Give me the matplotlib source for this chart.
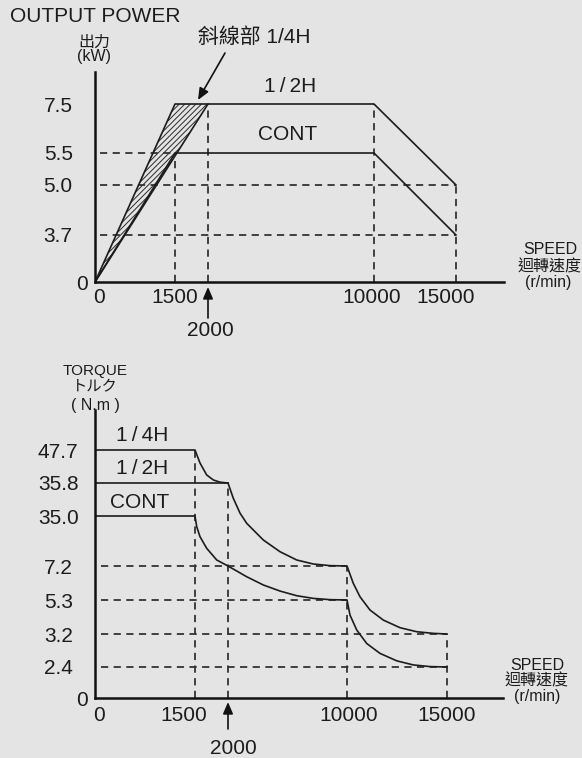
import numpy as np
import matplotlib
matplotlib.use('Agg')
import matplotlib.pyplot as plt
from matplotlib.transforms import ScaledTranslation

plt.rcParams['font.family'] = ['Liberation Sans', 'Noto Sans CJK TC', 'DejaVu Sans']
plt.rcParams['hatch.linewidth'] = 0.7

# ---- output power chart (kW vs r/min) ----
pw_xticks = [0, 1500, 10000, 15000]
pw_yticks = [0, 3.7, 5.0, 5.5, 7.5]
pw_ylabels = ['0', '3.7', '5.0', '5.5', '7.5']

pw_quarter_x = [0, 1500, 2000]
pw_quarter_y = [0, 7.5, 7.5]
pw_half_x = [0, 2000, 10000, 15000]
pw_half_y = [0, 7.5, 7.5, 5.0]
pw_cont_x = [0, 1500, 10000, 15000]
pw_cont_y = [0, 5.5, 5.5, 3.7]

# ---- torque chart (N.m vs r/min), curve points ----
tq_xticks = [0, 1500, 10000, 15000]
tq_yticks = [0, 2.4, 3.2, 5.3, 7.2, 35.0, 35.8, 47.7]
tq_ylabels = ['0', '2.4', '3.2', '5.3', '7.2', '35.0', '35.8', '47.7']

tq_quarter_x = [0, 1500, 1576, 1677, 1777, 1879, 2000]
tq_quarter_y = [47.7, 47.7, 43.0, 38.7, 36.9, 36.1, 35.8]
tq_half_x = [0, 2000, 2356, 2807, 3257, 4373, 5496, 6618, 7734, 8857, 10000,
             10315, 10650, 11150, 11815, 12650, 13485, 14315, 15000]
tq_half_y = [35.8, 35.8, 35.43, 35.07, 30.94, 21.66, 15.15, 10.54, 8.31, 7.4, 7.2,
             6.23, 5.48, 4.68, 4.06, 3.59, 3.34, 3.24, 3.2]
tq_cont_x = [0, 1500, 1526, 1576, 1677, 1829, 2000, 3257, 4373, 5496, 6618, 7734, 8857, 10000,
             10150, 10485, 10985, 11650, 12485, 13315, 14150, 15000]
tq_cont_y = [35.0, 35.0, 29.05, 23.49, 17.04, 10.54, 7.2, 6.60, 6.14, 5.80, 5.54, 5.39, 5.32, 5.3,
             4.37, 3.45, 2.97, 2.73, 2.55, 2.45, 2.41, 2.4]

BG = '#e4e4e4'
INK = '#1c1c1c'
W, H = 582, 758


def piecewise(vals, pos):
    # axis is not proportional: tick values sit at fixed spots
    return (lambda v: np.interp(v, vals, pos), lambda p: np.interp(p, pos, vals))


def px(x, y):
    return x / W, 1 - y / H


def shift(labels, offsets):
    for lab, dx in zip(labels, offsets):
        lab.set_transform(lab.get_transform() + ScaledTranslation(dx / 100, 0, fig.dpi_scale_trans))


def setup(ax, xv, xp, yv, yp, xticks, yticks, ylabels, xpad):
    ax.set_facecolor('none')
    ax.set_xscale('function', functions=piecewise(xv, xp))
    ax.set_yscale('function', functions=piecewise(yv, yp))
    ax.set_xlim(xv[0], xv[-1])
    ax.set_ylim(yv[0], yv[-1])
    for s in ['top', 'right']:
        ax.spines[s].set_visible(False)
    for s in ['left', 'bottom']:
        ax.spines[s].set_linewidth(1.8)
        ax.spines[s].set_color('#111111')
    ax.set_xticks(xticks, [str(t) for t in xticks])
    ax.set_yticks(yticks, ylabels, ha='center')
    ax.tick_params(length=0, labelsize=15, colors=INK)
    ax.tick_params(axis='y', pad=26.5)
    ax.tick_params(axis='x', pad=xpad)
    ax.minorticks_off()


fig = plt.figure(figsize=(W / 100, H / 100), dpi=100, facecolor=BG)

dash = dict(color='#333333', lw=1.3, linestyle=(0, (4, 3)))
solid = dict(color=INK, lw=1.2)

# top chart
ax1 = fig.add_axes([95 / W, 1 - 282 / H, 409 / W, 210 / H])
setup(ax1, [0, 1500, 2000, 10000, 15000, 18000], [0, 80, 113, 279, 361, 409],
      [0, 3.7, 5.0, 5.5, 7.5, 9.0], [0, 47, 97, 129, 178, 210],
      pw_xticks, pw_yticks, pw_ylabels, 4)
shift(ax1.get_xticklabels(), [4, 0, -2, -10])
shift(ax1.get_yticklabels(), [24, 0, 0, 0, 0])

ax1.hlines([5.5, 5.0, 3.7], 100, [1500, 15000, 15000], **dash)
ax1.vlines([1500, 2000, 10000, 15000], 0, [5.5, 7.5, 7.5, 5.0], **dash)
ax1.fill(pw_quarter_x, pw_quarter_y, facecolor='none', edgecolor='#2a2a2a', hatch='//////', lw=0)
ax1.plot(pw_quarter_x, pw_quarter_y, **solid)
ax1.plot(pw_half_x, pw_half_y, **solid)
ax1.plot(pw_cont_x, pw_cont_y, **solid)

arrow = dict(arrowstyle='-|>,head_length=0.7,head_width=0.3', color='#111111', lw=1.2,
             shrinkA=0, shrinkB=0)
ax1.annotate('', xy=(2000, 0), xycoords='data', xytext=(0, -36), textcoords='offset pixels',
             arrowprops=dict(arrow, shrinkB=3.6))
ax1.annotate('', xy=px(198, 100), xycoords='figure fraction', xytext=px(225, 53),
             textcoords='figure fraction', arrowprops=arrow)

# bottom chart
ax2 = fig.add_axes([95 / W, 1 - 698 / H, 408 / W, 288 / H])
setup(ax2, [0, 1500, 2000, 10000, 15000, 18000], [0, 100, 133, 252, 352, 408],
      [0, 2.4, 3.2, 5.3, 7.2, 35.0, 35.8, 47.7, 60], [0, 31, 64, 98, 132, 182, 215, 248, 288],
      tq_xticks, tq_yticks, tq_ylabels, 6)
shift(ax2.get_xticklabels(), [4, -11, 2, 0])
shift(ax2.get_yticklabels(), [24, 0, 0, 0, 0, 0, 0, 0])

ax2.hlines([7.2, 5.3, 3.2, 2.4], 90, [10000, 10000, 15000, 15000], **dash)
ax2.vlines([1500, 2000, 10000, 15000], 0, [47.7, 35.8, 7.2, 3.2], **dash)
ax2.plot(tq_quarter_x, tq_quarter_y, **solid)
ax2.plot(tq_half_x, tq_half_y, **solid)
ax2.plot(tq_cont_x, tq_cont_y, **solid)
ax2.annotate('', xy=(2000, 0), xycoords='data', xytext=(0, -31), textcoords='offset pixels',
             arrowprops=dict(arrow, shrinkB=2.9))

# texts
def label(x, y, s, size=15, **kw):
    fig.text(*px(x, y), s, fontsize=size, color=INK, ha=kw.pop('ha', 'center'), va='center', **kw)


label(10, 17, 'OUTPUT POWER', ha='left')
label(94, 42, '出力', 11.5)
label(94, 57, '(kW)', 11.5)
label(198, 37, '斜線部 1/4H', ha='left')
label(290, 87, '1\u2009/\u20092H')
label(288, 135, 'CONT')
label(210, 330, '2000')
label(550, 249, 'SPEED', 11.5)
label(550, 267, '迴轉速度', 11.5)
label(548, 283, '(r/min)', 11.5)

label(95, 371, 'TORQUE', 11)
label(95, 387, 'トルク', 11)
label(95, 405, '( N.m )', 11.5)
label(142, 435, '1\u2009/\u20094H')
label(142, 468, '1\u2009/\u20092H')
label(140, 502, 'CONT')
label(233, 748, '2000')
label(537, 665, 'SPEED', 11.5)
label(537, 681, '迴轉速度', 11.5)
label(537, 697, '(r/min)', 11.5)

fig.savefig('out.png', dpi=100, facecolor=BG)
